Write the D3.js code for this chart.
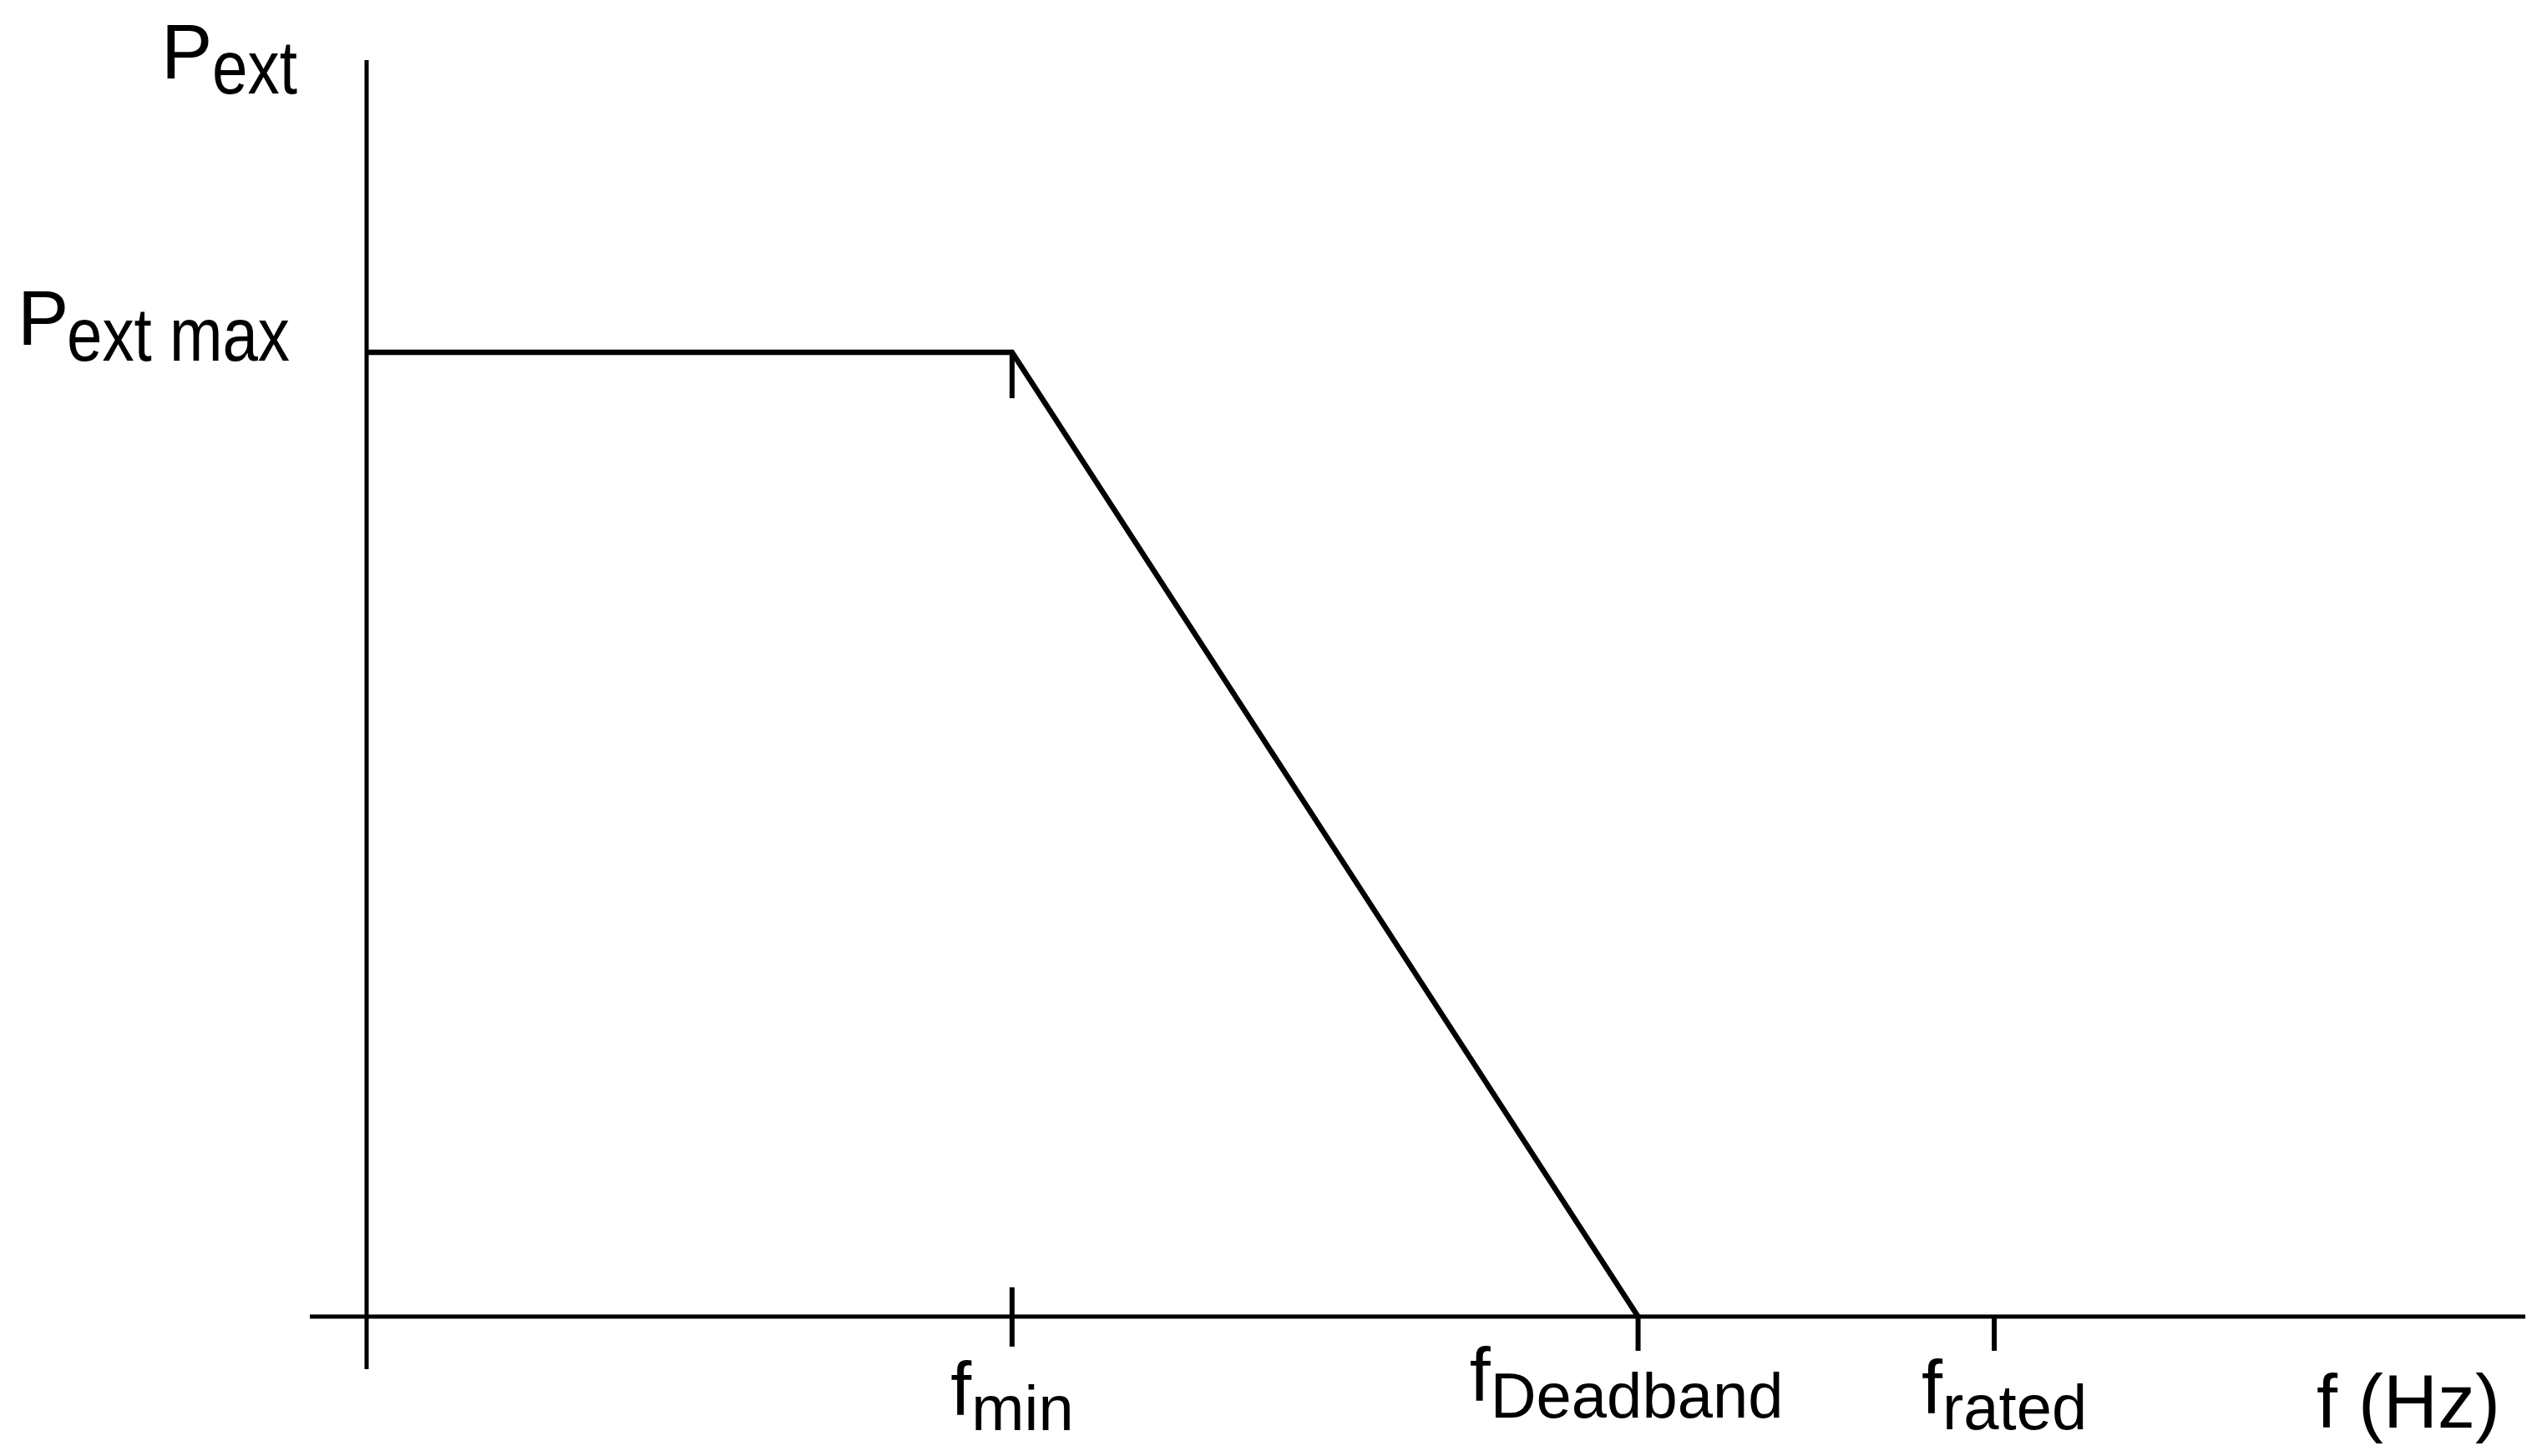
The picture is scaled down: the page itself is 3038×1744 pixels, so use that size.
<!DOCTYPE html>
<html>
<head>
<meta charset="utf-8">
<script src="https://cdn.jsdelivr.net/npm/d3@7"></script>
<style>
  html, body { margin: 0; padding: 0; background: #fff; }
  svg text { font-family: "Liberation Sans", Arial, sans-serif; fill: #000; }
</style>
</head>
<body>
<div id="chart"></div>
<script>
// frequency positions on the x axis (arbitrary units, 0 = Pext axis)
const freqKeys = ["min", "Deadband", "rated"];
const freqValues = [29.9, 58.9, 75.4];

// the droop curve: Pext (per unit of Pext max) vs frequency
const curveFreq = [0, 29.9, 58.9];
const curvePower = [1, 1, 0];

const yLabelMain = ["P", "P"];
const yLabelSub = ["ext", "ext max"];
const yLabelValues = [1.303, 1];   // top of axis, Pext max
const xAxisTitle = "f (Hz)";

let size = { w: 3038, h: 1744 };
let strokeAxis = 5, strokeTick = 6, strokeCurve = 6.5;

// label nudges, the source labels are not exactly aligned
let xLabelLayout = [
  { dx: 0, base: 1695, sub: 18 },
  { dx: -14, base: 1678, sub: 20 },
  { dx: 12, base: 1693, sub: 19 }
];
let yLabelLayout = [
  { x: 193, base: 94, subX: 254, subBase: 112, subLen: 102 },
  { x: 21, base: 413, subX: 80, subBase: 432, subLen: 267 }
];

let svg = d3.select("#chart")
  .append("svg")
  .attr("width", size.w)
  .attr("height", size.h);

let x = d3.scaleLinear().domain([0, 100]).range([439, 3024]);
let y = d3.scaleLinear().domain([0, 1]).range([1577, 422]);

// axes
svg.append("line")   // x axis
  .attr("x1", x(-2.63)).attr("x2", x(100))
  .attr("y1", y(0)).attr("y2", y(0))
  .attr("stroke", "#000").attr("stroke-width", strokeAxis);

svg.append("line")   // y axis
  .attr("x1", x(0)).attr("x2", x(0))
  .attr("y1", y(1.303)).attr("y2", y(-0.0545))
  .attr("stroke", "#000").attr("stroke-width", strokeAxis);

// ticks: fmin crosses the axis, the others hang below it
svg.selectAll(".f-tick")
  .data(freqValues).enter()
  .append("line")
    .attr("class", "f-tick")
    .attr("x1", d => x(d)).attr("x2", d => x(d))
    .attr("y1", (d, i) => i === 0 ? y(0) - 35 : y(0))
    .attr("y2", (d, i) => i === 0 ? y(0) + 36 : y(0) + 41)
    .attr("stroke", "#000").attr("stroke-width", strokeTick);

// small tick under the knee at fmin
svg.append("line")
  .attr("x1", x(freqValues[0])).attr("x2", x(freqValues[0]))
  .attr("y1", y(1)).attr("y2", y(1) + 55)
  .attr("stroke", "#000").attr("stroke-width", strokeTick);

// curve
let line = d3.line()
  .x(d => x(d[0]))
  .y(d => y(d[1]));

svg.append("path")
  .datum(d3.zip(curveFreq, curvePower))
  .attr("d", line)
  .attr("fill", "none")
  .attr("stroke", "#000")
  .attr("stroke-width", strokeCurve)
  .attr("stroke-linejoin", "miter");

// x tick labels  f_min, f_Deadband, f_rated
let xLabels = svg.selectAll(".f-label")
  .data(freqKeys).enter()
  .append("text")
    .attr("class", "f-label")
    .attr("text-anchor", "middle")
    .attr("x", (d, i) => x(freqValues[i]) + xLabelLayout[i].dx)
    .attr("y", (d, i) => xLabelLayout[i].base);

xLabels.append("tspan").attr("font-size", 90).text("f");
xLabels.append("tspan")
  .attr("font-size", 76)
  .attr("dy", (d, i) => xLabelLayout[i].sub)
  .text(d => d);

svg.append("text")
  .attr("x", 2774)
  .attr("y", 1710)
  .attr("font-size", 90)
  .text(xAxisTitle);

// y labels  P_ext, P_ext max  (subscripts are set tall and narrow)
svg.selectAll(".p-label")
  .data(yLabelMain).enter()
  .append("text")
    .attr("class", "p-label")
    .attr("x", (d, i) => yLabelLayout[i].x)
    .attr("y", (d, i) => yLabelLayout[i].base)
    .attr("font-size", 92)
    .text(d => d);

svg.selectAll(".p-sub")
  .data(yLabelSub).enter()
  .append("text")
    .attr("class", "p-sub")
    .attr("x", (d, i) => yLabelLayout[i].subX)
    .attr("y", (d, i) => yLabelLayout[i].subBase)
    .attr("font-size", 90)
    .attr("textLength", (d, i) => yLabelLayout[i].subLen)
    .attr("lengthAdjust", "spacingAndGlyphs")
    .text(d => d);
</script>
</body>
</html>
